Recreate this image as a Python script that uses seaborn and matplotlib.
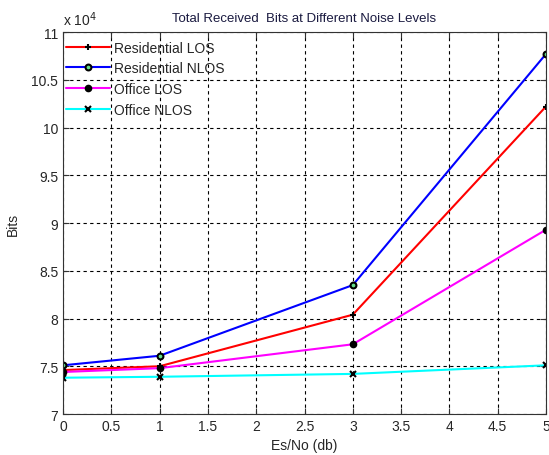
import numpy as np
import pandas as pd
import matplotlib
matplotlib.use('Agg')
import matplotlib.pyplot as plt
import matplotlib.ticker as mticker
import seaborn as sns

# data (bits, x 10^4)
es_no = [0, 1, 3, 5]
res_los = [7.46, 7.50, 8.04, 10.22]
res_nlos = [7.51, 7.61, 8.35, 10.77]
off_los = [7.44, 7.48, 7.73, 8.93]
off_nlos = [7.38, 7.39, 7.42, 7.51]
names = ['Residential LOS', 'Residential NLOS', 'Office LOS', 'Office NLOS']

sns.set_style('ticks')
plt.rcParams['font.family'] = ['Liberation Sans', 'DejaVu Sans']

fig = plt.figure(figsize=(5.49, 4.56), dpi=100)
ax = fig.add_axes([0.1148, 0.0899, 0.8797, 0.8377])

series = [res_los, res_nlos, off_los, off_nlos]
colors = ['#ff0000', '#0000ff', '#ff00ff', '#00ffff']
markers = ['+', 'o', 'o', 'x']
mfc = ['k', '#66e08a', 'k', 'k']
msz = [5, 4.2, 4, 4]

for name, vals, c, m, fc, s in zip(names, series, colors, markers, mfc, msz):
    df = pd.DataFrame({'x': es_no, 'y': np.array(vals) * 1e4})
    sns.lineplot(data=df, x='x', y='y', ax=ax, color=c, lw=1.5, marker=m,
                 markersize=s, markerfacecolor=fc, markeredgecolor='k',
                 markeredgewidth=1.5, label=name)

ax.set_xlim(0, 5)
ax.set_ylim(7e4, 11e4)
ax.set_xticks(np.arange(0, 5.01, 0.5))
ax.set_yticks(np.arange(7e4, 11.01e4, 0.5e4))
ax.xaxis.set_major_formatter(mticker.FuncFormatter(lambda v, p: '%g' % v))
ax.yaxis.set_major_formatter(mticker.FuncFormatter(lambda v, p: '%g' % (v / 1e4)))
ax.grid(True, color='k', ls=(0, (3, 3)), lw=0.8)
ax.tick_params(direction='in', length=4, labelsize=10, top=True, right=True,
               colors='#333333', labelcolor='#262626')
for sp in ax.spines.values():
    sp.set_color('#333333')
    sp.set_linewidth(0.8)

ax.set_xlabel('Es/No (db)', fontsize=10, color='#262626')
ax.set_ylabel('Bits', fontsize=10, color='#262626', labelpad=8)
ax.set_title('Total Received  Bits at Different Noise Levels', fontsize=9.5,
             color='#1a1a40', pad=8)
ax.text(0.0, 1.01, 'x 10$^{4}$', transform=ax.transAxes, fontsize=10,
        va='bottom', ha='left', color='#262626')

leg = ax.legend(loc='upper left', bbox_to_anchor=(0.0, 0.985), frameon=False,
                fontsize=10, handlelength=3.2, borderaxespad=0.05,
                borderpad=0.15, labelspacing=0.48, handletextpad=0.25)

fig.savefig('out.png', dpi=100)
